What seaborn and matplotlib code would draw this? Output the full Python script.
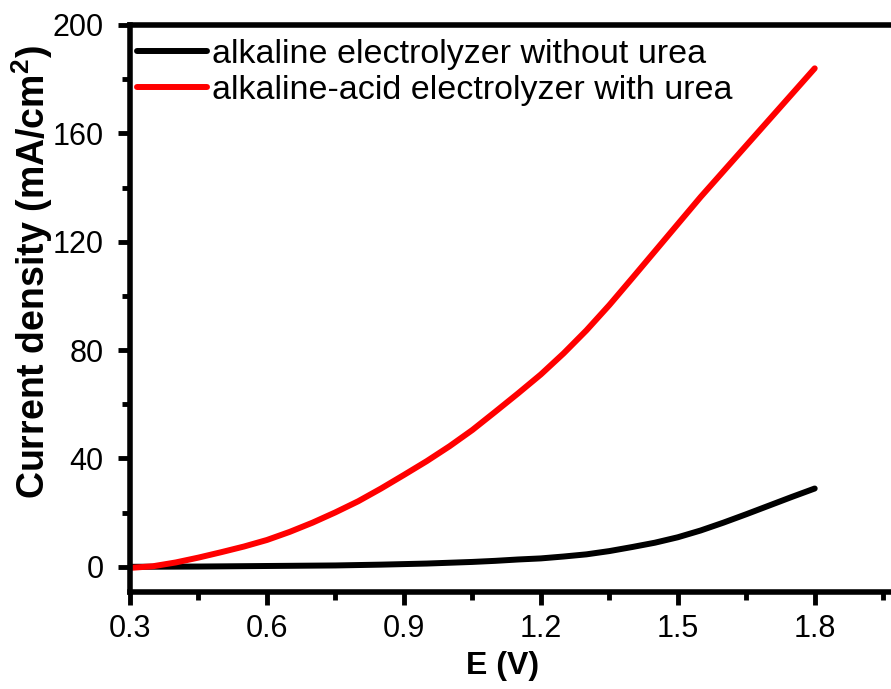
import matplotlib
matplotlib.use("Agg")
import matplotlib.pyplot as plt
import seaborn as sns
import pandas as pd
from matplotlib.ticker import MultipleLocator

sns.set_theme(style="white")
plt.rcParams['font.family'] = ['Liberation Sans', 'DejaVu Sans']
plt.rcParams['text.color'] = 'black'
plt.rcParams['axes.labelcolor'] = 'black'
plt.rcParams['xtick.color'] = 'black'
plt.rcParams['ytick.color'] = 'black'
plt.rcParams['mathtext.fontset'] = 'custom'
plt.rcParams['mathtext.rm'] = 'Liberation Sans:bold'
plt.rcParams['mathtext.bf'] = 'Liberation Sans:bold'

# Data
black_E = [0.30, 0.45, 0.60, 0.75, 0.85, 0.95, 1.05, 1.10, 1.15, 1.20, 1.25, 1.30, 1.35, 1.40, 1.45, 1.50,
           1.55, 1.60, 1.65, 1.70, 1.75, 1.80]
black_J = [0.0, 0.1, 0.3, 0.5, 0.8, 1.2, 1.8, 2.2, 2.7, 3.1, 3.8, 4.6, 5.8, 7.3, 8.9, 10.9,
           13.4, 16.3, 19.4, 22.6, 25.8, 28.9]

red_E = [0.30, 0.35, 0.40, 0.45, 0.50, 0.55, 0.60, 0.65, 0.70, 0.75, 0.80, 0.85, 0.90, 0.95, 1.00,
         1.05, 1.10, 1.15, 1.20, 1.25, 1.30, 1.35, 1.40, 1.45, 1.50, 1.55, 1.60, 1.65, 1.70, 1.75, 1.80]
red_J = [-0.4, 0.2, 1.6, 3.4, 5.4, 7.5, 9.9, 12.9, 16.3, 20.1, 24.2, 28.9, 33.9, 39.0, 44.5,
         50.5, 57.2, 64.0, 71.0, 78.8, 87.3, 96.6, 106.5, 116.5, 126.5, 136.5, 146.0, 155.5, 165.0, 174.5, 184.0]

labels = ["alkaline electrolyzer without urea", "alkaline-acid electrolyzer with urea"]

df = pd.concat([
    pd.DataFrame({"E": black_E, "J": black_J, "series": labels[0]}),
    pd.DataFrame({"E": red_E, "J": red_J, "series": labels[1]}),
])

fig = plt.figure(figsize=(8.91, 6.89), dpi=100)
ax = fig.add_axes([130 / 891, 97 / 689, (906 - 130) / 891, (592 - 25) / 689])

sns.lineplot(data=df, x="E", y="J", hue="series", palette=["black", "#ff0000"],
             linewidth=4.3, ax=ax, sort=True, estimator=None)

ax.set_xlim(0.3, 2.0)
ax.set_ylim(-9.3, 200)
ax.xaxis.set_minor_locator(MultipleLocator(0.15))
ax.yaxis.set_minor_locator(MultipleLocator(20))
ax.set_xticks([0.3, 0.6, 0.9, 1.2, 1.5, 1.8])
ax.set_xticklabels(["0.3", "0.6", "0.9", "1.2", "1.5", "1.8"])
ax.set_yticks([0, 40, 80, 120, 160, 200])
ax.set_yticklabels(["0", "40", "80", "120", "160", "200"])

for s in ax.spines.values():
    s.set_linewidth(4)
    s.set_color("black")

ax.tick_params(which="major", direction="out", length=9, width=3.5, labelsize=22, pad=7,
               bottom=True, left=True, top=False, right=False)
ax.tick_params(axis="y", which="major", pad=10)
ax.tick_params(which="minor", direction="out", length=5.5, width=3.5,
               bottom=True, left=True, top=False, right=False)

ax.set_xlabel("E (V)", fontsize=23, fontweight="bold")
ax.xaxis.set_label_coords((503 - 130) / 776, -0.104)
ax.set_ylabel("Current density (mA/cm$^\\mathbf{2}$)", fontsize=27, fontweight="bold")
ax.yaxis.set_label_coords(-0.097, 0.565)

leg = ax.legend(loc="upper left", frameon=False, fontsize=24.5, handlelength=2.05,
                handletextpad=0.15, borderaxespad=0.0, borderpad=0.0, labelspacing=0.15,
                bbox_to_anchor=(0.009, 0.976))

fig.savefig("out.png", dpi=100)
